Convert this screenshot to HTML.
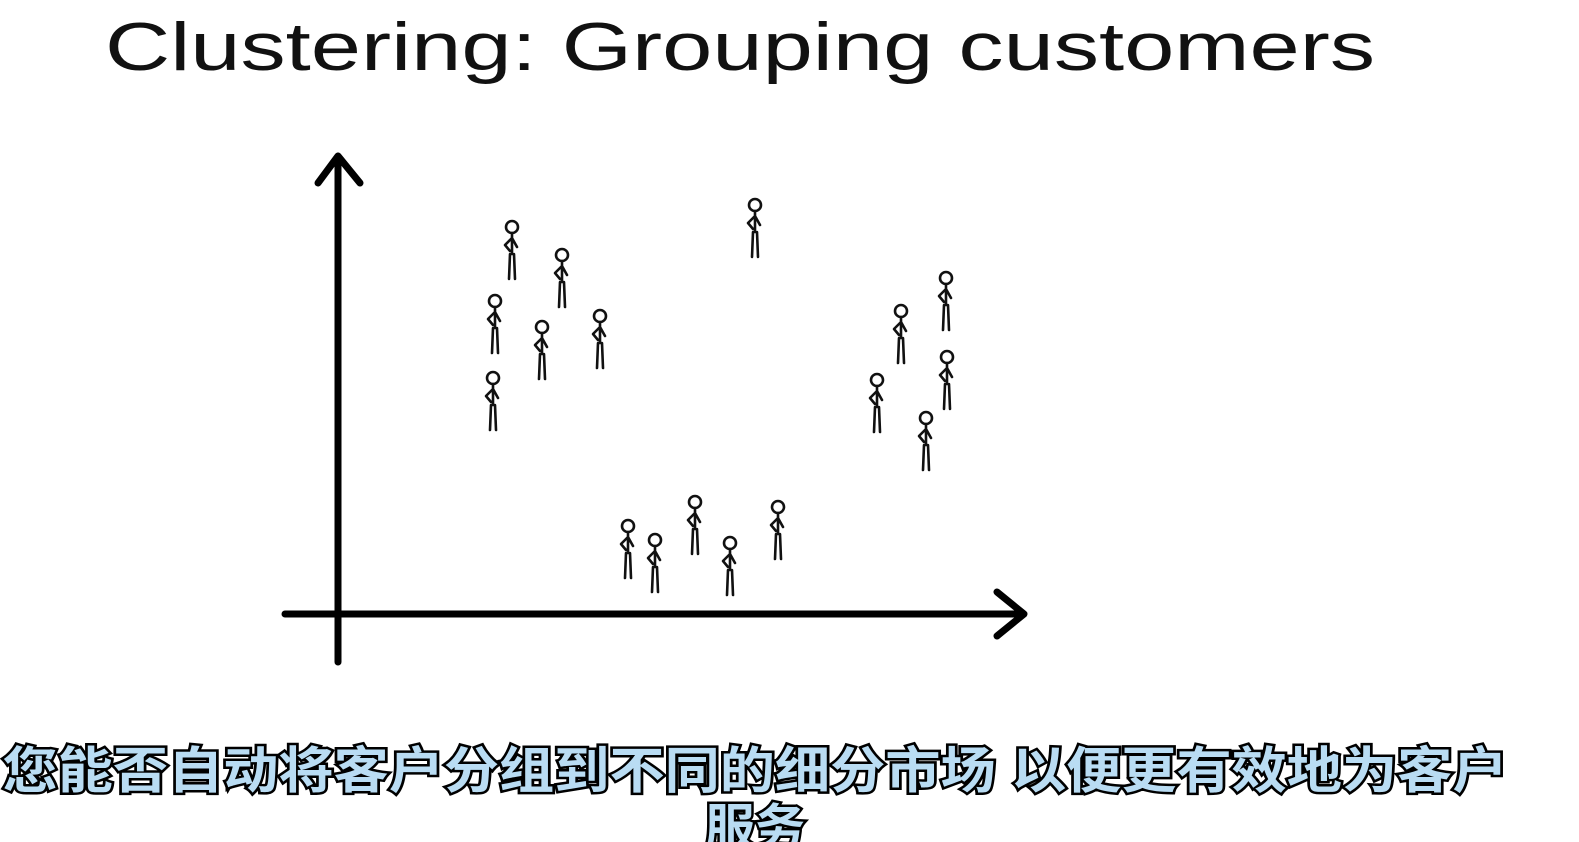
<!DOCTYPE html>
<html><head><meta charset="utf-8"><style>
html,body{margin:0;padding:0;background:#fff;width:1579px;height:842px;overflow:hidden}
svg{display:block}
</style></head><body>
<svg width="1579" height="842" viewBox="0 0 1579 842" xmlns="http://www.w3.org/2000/svg">
<defs>
<g id="p" fill="none" stroke="#111" stroke-width="2.6" stroke-linecap="round" stroke-linejoin="round">
<circle cx="0" cy="0" r="6"/>
<path d="M0 6 L0 27 M-2 27 L-3 52 M2 27 L3 52 M0 11 L-7 18 L-2 24 M0 11 L5 20"/>
</g>
</defs>
<text x="105" y="70" font-family="Liberation Sans, sans-serif" font-size="68" fill="#111" textLength="1270" lengthAdjust="spacingAndGlyphs">Clustering: Grouping customers</text>
<g stroke="#000" stroke-width="7" fill="none" stroke-linecap="round" stroke-linejoin="round">
<line x1="338" y1="160" x2="338" y2="662"/>
<path d="M318 183 L338 156 L360 183"/>
<line x1="285" y1="614" x2="1022" y2="614"/>
<path d="M997 592 L1024 614 L997 636"/>
</g>
<use href="#p" x="512" y="227"/><use href="#p" x="562" y="255"/><use href="#p" x="495" y="301"/>
<use href="#p" x="542" y="327"/><use href="#p" x="600" y="316"/><use href="#p" x="493" y="378"/>
<use href="#p" x="755" y="205"/><use href="#p" x="946" y="278"/><use href="#p" x="901" y="311"/>
<use href="#p" x="947" y="357"/><use href="#p" x="877" y="380"/><use href="#p" x="926" y="418"/>
<use href="#p" x="628" y="526"/><use href="#p" x="655" y="540"/><use href="#p" x="695" y="502"/>
<use href="#p" x="730" y="543"/><use href="#p" x="778" y="507"/>
<g font-family="Liberation Sans, Noto Sans CJK SC, sans-serif" font-size="50" font-weight="bold" fill="#b9dcf3" stroke="#000" stroke-width="5" paint-order="stroke" text-anchor="middle">
<text x="755" y="788" textLength="1505" lengthAdjust="spacingAndGlyphs">您能否自动将客户分组到不同的细分市场 以便更有效地为客户</text>
<text x="755" y="845">服务</text>
</g>
</svg>
</body></html>
